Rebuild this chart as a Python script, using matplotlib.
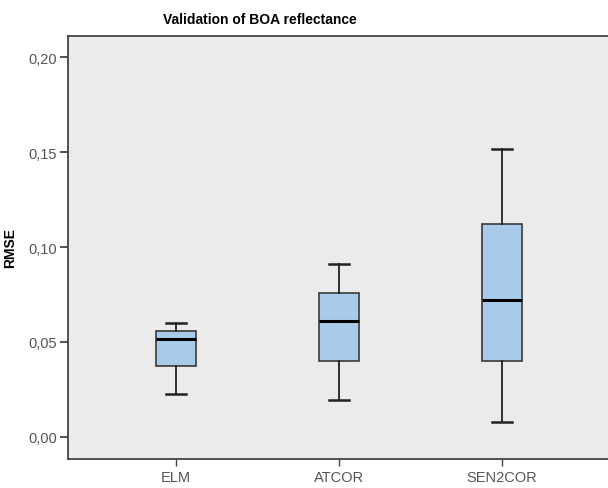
import matplotlib.pyplot as plt
from matplotlib.ticker import FuncFormatter

plt.rcParams['font.family'] = ['Liberation Sans', 'DejaVu Sans']

methods = ['ELM', 'ATCOR', 'SEN2COR']
whisker_low = [0.0228, 0.0193, 0.0079]
q1 = [0.0372, 0.0400, 0.0400]
median = [0.0516, 0.0609, 0.0723]
q3 = [0.0556, 0.0758, 0.1119]
whisker_high = [0.0598, 0.0909, 0.1516]
y_ticks = [0.00, 0.05, 0.10, 0.15, 0.20]

stats = []
for i, name in enumerate(methods):
    stats.append({'label': name, 'whislo': whisker_low[i], 'q1': q1[i],
                  'med': median[i], 'q3': q3[i], 'whishi': whisker_high[i]})

fig = plt.figure(figsize=(6.08, 4.89), dpi=100)
ax = fig.add_axes([68 / 608, 1 - 460 / 489, (610 - 68) / 608, (460 - 37) / 489])
ax.set_facecolor('#ebebeb')

ax.bxp(stats, positions=[1, 2, 3], widths=0.25, patch_artist=True,
       showfliers=False,
       boxprops=dict(facecolor='#a9cbea', edgecolor='#3a3a3a', linewidth=1.2),
       medianprops=dict(color='black', linewidth=2.2),
       whiskerprops=dict(color='#222222', linewidth=1.3),
       capprops=dict(color='#222222', linewidth=1.8))

ax.set_xlim(0.337, 3.663)
ax.set_ylim(-0.0116, 0.2111)
ax.set_yticks(y_ticks)
ax.yaxis.set_major_formatter(FuncFormatter(lambda v, p: f'{v:.2f}'.replace('.', ',')))

for side in ['left', 'bottom', 'top']:
    ax.spines[side].set_color('#444444')
    ax.spines[side].set_linewidth(1.3)
ax.spines['right'].set_visible(False)

ax.tick_params(axis='y', length=6, width=1.3, color='#444444', labelsize=10.5,
               labelcolor='#555555', pad=2)
ax.tick_params(axis='x', length=5, width=1.0, color='#444444', labelsize=10.5,
               labelcolor='#555555', pad=3)

ax.set_ylabel('RMSE', fontsize=10, fontweight='bold', labelpad=8)
fig.text(260 / 608, 1 - 20 / 489, 'Validation of BOA reflectance',
         ha='center', va='center', fontsize=10, fontweight='bold')

fig.savefig('out.png', dpi=100)
